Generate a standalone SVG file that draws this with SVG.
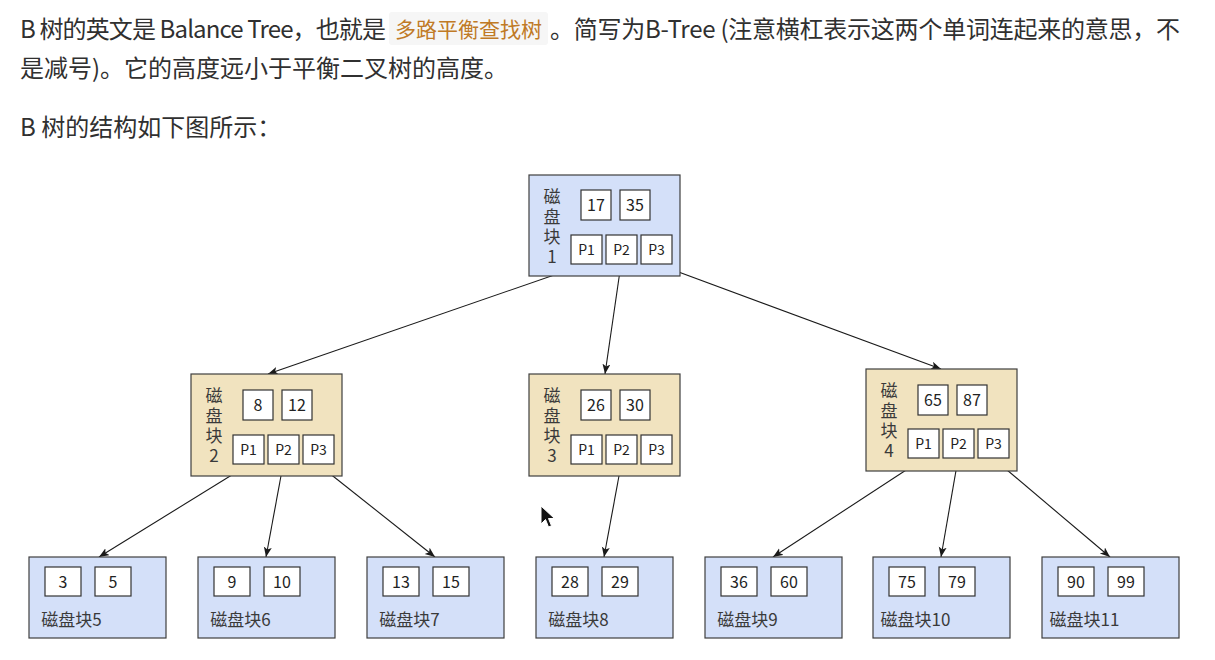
<svg xmlns="http://www.w3.org/2000/svg" width="1215" height="660" viewBox="0 0 1215 660">
<style>
.body{font-family:"Noto Sans CJK SC","Noto Sans",sans-serif;font-size:24px;fill:#303030}
.code{font-family:"Noto Sans CJK SC","Noto Sans",sans-serif;font-size:21px;fill:#c07a26}
.blue{fill:#d4e0f9;stroke:#3f3f3f;stroke-width:1.2}
.tan{fill:#f1e3bf;stroke:#3f3f3f;stroke-width:1.2}
.cell{fill:#ffffff;stroke:#333333;stroke-width:1.2}
.t{font-family:"Noto Sans CJK SC","Noto Sans",sans-serif;font-size:16px;fill:#222;text-anchor:middle}
.p{font-family:"Noto Sans CJK SC","Noto Sans",sans-serif;font-size:14px;fill:#222;text-anchor:middle}
.lbl{font-family:"Noto Sans CJK SC","Noto Sans",sans-serif;font-size:17px;fill:#3a3a3a;text-anchor:middle}
.vl{font-family:"Noto Sans CJK SC","Noto Sans",sans-serif;font-size:17px;fill:#3a3a3a;writing-mode:vertical-rl;text-orientation:upright;letter-spacing:3px}
.edge{stroke:#1a1a1a;stroke-width:1.1;fill:none;marker-end:url(#arr)}
</style>
<defs>
<marker id="arr" markerUnits="userSpaceOnUse" markerWidth="11" markerHeight="9" refX="10" refY="4" orient="auto">
<path d="M0,0 L10,4 L0,8 L2.5,4 z" fill="#1a1a1a"/>
</marker>
</defs>
<rect width="1215" height="660" fill="#ffffff"/>
<g id="header">
<text class="body" x="20" y="37.5" textLength="366">B 树的英文是 Balance Tree，也就是</text>
<rect x="389" y="12" width="159" height="33" rx="3" fill="#f6f6f6"/>
<text class="code" x="395" y="36.5" textLength="147">多路平衡查找树</text>
<text class="body" x="550" y="37.5" textLength="630">。简写为B-Tree (注意横杠表示这两个单词连起来的意思，不</text>
<text class="body" x="20" y="77">是减号)。它的高度远小于平衡二叉树的高度。</text>
<text class="body" x="20" y="136">B 树的结构如下图所示：</text>
</g>
<g id="connectors">
<line class="edge" x1="586" y1="264" x2="268" y2="374"/>
<line class="edge" x1="621" y1="264" x2="605" y2="374"/>
<line class="edge" x1="657" y1="264" x2="941" y2="369"/>
<line class="edge" x1="248" y1="465" x2="99" y2="557"/>
<line class="edge" x1="283" y1="465" x2="266" y2="557"/>
<line class="edge" x1="319" y1="465" x2="435" y2="557"/>
<line class="edge" x1="621" y1="465" x2="604" y2="557"/>
<line class="edge" x1="923" y1="459" x2="773" y2="557"/>
<line class="edge" x1="958" y1="459" x2="941" y2="557"/>
<line class="edge" x1="994" y1="459" x2="1110" y2="557"/>
</g>
<g id="block1" transform="translate(529,175)">
<rect class="blue" x="0" y="0" width="151" height="101"/>
<text class="vl" x="23" y="13">磁盘块1</text>
<rect class="cell" x="52" y="15" width="30" height="30"/><text class="t" x="67" y="35.5">17</text>
<rect class="cell" x="91" y="15" width="30" height="30"/><text class="t" x="106" y="35.5">35</text>
<rect class="cell" x="42" y="60" width="31" height="29"/><text class="p" x="57.5" y="79.5">P1</text>
<rect class="cell" x="77" y="60" width="31" height="29"/><text class="p" x="92.5" y="79.5">P2</text>
<rect class="cell" x="112" y="60" width="31" height="29"/><text class="p" x="127.5" y="79.5">P3</text>
</g>
<g id="block2" transform="translate(191,374)">
<rect class="tan" x="0" y="0" width="151" height="102"/>
<text class="vl" x="23" y="13">磁盘块2</text>
<rect class="cell" x="52" y="16" width="30" height="30"/><text class="t" x="67" y="36.5">8</text>
<rect class="cell" x="91" y="16" width="30" height="30"/><text class="t" x="106" y="36.5">12</text>
<rect class="cell" x="42" y="61" width="31" height="29"/><text class="p" x="57.5" y="80.5">P1</text>
<rect class="cell" x="77" y="61" width="31" height="29"/><text class="p" x="92.5" y="80.5">P2</text>
<rect class="cell" x="112" y="61" width="31" height="29"/><text class="p" x="127.5" y="80.5">P3</text>
</g>
<g id="block3" transform="translate(529,374)">
<rect class="tan" x="0" y="0" width="151" height="102"/>
<text class="vl" x="23" y="13">磁盘块3</text>
<rect class="cell" x="52" y="16" width="30" height="30"/><text class="t" x="67" y="36.5">26</text>
<rect class="cell" x="91" y="16" width="30" height="30"/><text class="t" x="106" y="36.5">30</text>
<rect class="cell" x="42" y="61" width="31" height="29"/><text class="p" x="57.5" y="80.5">P1</text>
<rect class="cell" x="77" y="61" width="31" height="29"/><text class="p" x="92.5" y="80.5">P2</text>
<rect class="cell" x="112" y="61" width="31" height="29"/><text class="p" x="127.5" y="80.5">P3</text>
</g>
<g id="block4" transform="translate(866,369)">
<rect class="tan" x="0" y="0" width="151" height="102"/>
<text class="vl" x="23" y="13">磁盘块4</text>
<rect class="cell" x="52" y="16" width="30" height="30"/><text class="t" x="67" y="36.5">65</text>
<rect class="cell" x="91" y="16" width="30" height="30"/><text class="t" x="106" y="36.5">87</text>
<rect class="cell" x="42" y="60" width="31" height="29"/><text class="p" x="57.5" y="79.5">P1</text>
<rect class="cell" x="77" y="60" width="31" height="29"/><text class="p" x="92.5" y="79.5">P2</text>
<rect class="cell" x="112" y="60" width="31" height="29"/><text class="p" x="127.5" y="79.5">P3</text>
</g>
<g id="block5" transform="translate(29,557)">
<rect class="blue" x="0" y="0" width="137" height="81"/>
<rect class="cell" x="16" y="10" width="36" height="29"/><text class="t" x="34" y="30.5">3</text>
<rect class="cell" x="66" y="10" width="36" height="29"/><text class="t" x="84" y="30.5">5</text>
<text class="lbl" x="42.5" y="69">磁盘块5</text>
</g>
<g id="block6" transform="translate(198,557)">
<rect class="blue" x="0" y="0" width="137" height="81"/>
<rect class="cell" x="16" y="10" width="36" height="29"/><text class="t" x="34" y="30.5">9</text>
<rect class="cell" x="66" y="10" width="36" height="29"/><text class="t" x="84" y="30.5">10</text>
<text class="lbl" x="42.5" y="69">磁盘块6</text>
</g>
<g id="block7" transform="translate(367,557)">
<rect class="blue" x="0" y="0" width="137" height="81"/>
<rect class="cell" x="16" y="10" width="36" height="29"/><text class="t" x="34" y="30.5">13</text>
<rect class="cell" x="66" y="10" width="36" height="29"/><text class="t" x="84" y="30.5">15</text>
<text class="lbl" x="42.5" y="69">磁盘块7</text>
</g>
<g id="block8" transform="translate(536,557)">
<rect class="blue" x="0" y="0" width="137" height="81"/>
<rect class="cell" x="16" y="10" width="36" height="29"/><text class="t" x="34" y="30.5">28</text>
<rect class="cell" x="66" y="10" width="36" height="29"/><text class="t" x="84" y="30.5">29</text>
<text class="lbl" x="42.5" y="69">磁盘块8</text>
</g>
<g id="block9" transform="translate(705,557)">
<rect class="blue" x="0" y="0" width="137" height="81"/>
<rect class="cell" x="16" y="10" width="36" height="29"/><text class="t" x="34" y="30.5">36</text>
<rect class="cell" x="66" y="10" width="36" height="29"/><text class="t" x="84" y="30.5">60</text>
<text class="lbl" x="42.5" y="69">磁盘块9</text>
</g>
<g id="block10" transform="translate(873,557)">
<rect class="blue" x="0" y="0" width="137" height="81"/>
<rect class="cell" x="16" y="10" width="36" height="29"/><text class="t" x="34" y="30.5">75</text>
<rect class="cell" x="66" y="10" width="36" height="29"/><text class="t" x="84" y="30.5">79</text>
<text class="lbl" x="42.5" y="69">磁盘块10</text>
</g>
<g id="block11" transform="translate(1042,557)">
<rect class="blue" x="0" y="0" width="137" height="81"/>
<rect class="cell" x="16" y="10" width="36" height="29"/><text class="t" x="34" y="30.5">90</text>
<rect class="cell" x="66" y="10" width="36" height="29"/><text class="t" x="84" y="30.5">99</text>
<text class="lbl" x="42.5" y="69">磁盘块11</text>
</g>
<path d="M541,506 L541,524 L545.5,519.5 L548.5,527 L551.5,525.8 L548.5,518.5 L554.5,518.5 Z" fill="#111" stroke="#fff" stroke-width="1"/>
</svg>
